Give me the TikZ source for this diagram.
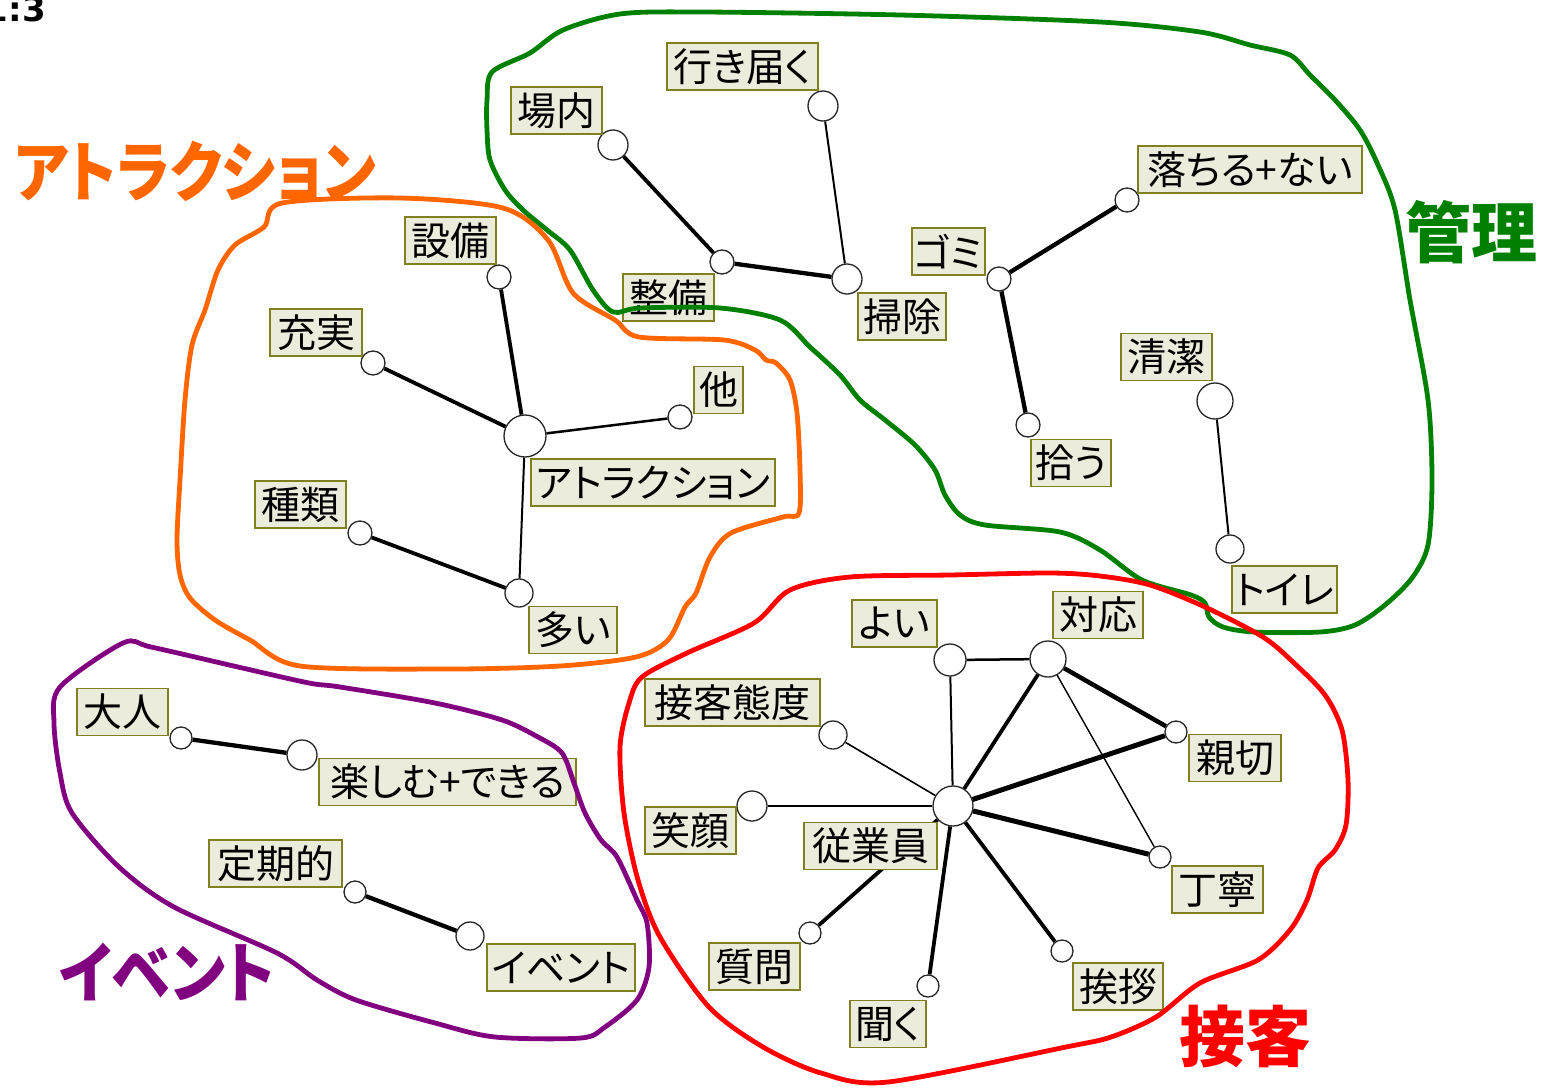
\documentclass[tikz,border=0pt]{standalone}
\usepackage{fontspec}
\usepackage{graphicx}
\newfontfamily\jp{Noto Sans CJK JP}[RawFeature=+palt]
\newfontfamily\numfont{DejaVu Sans}
\definecolor{lblfill}{RGB}{236,236,220}
\definecolor{lbldraw}{RGB}{128,128,32}
\definecolor{gOrange}{HTML}{FF6600}
\definecolor{gGreen}{HTML}{008000}
\definecolor{gRed}{HTML}{FF0000}
\definecolor{gPurple}{HTML}{800080}
\tikzset{
  lbl/.style={draw=lbldraw, fill=lblfill, line width=1.8pt, inner sep=0pt,
    minimum height=47pt, text=black, font=\jp\fontsize{39}{39}\selectfont},
  nd/.style={circle, draw=black!85, fill=white, line width=1.3pt, inner sep=0pt, minimum size=#1},
  big/.style={inner sep=0pt, font=\jp\bfseries\fontsize{66}{66}\selectfont},
  ew/.style={draw=black, line width=#1},
  grpline/.style={line width=4.8pt, line join=round}
}
\begin{document}
\begin{tikzpicture}[x=1pt,y=-1pt]
\useasboundingbox (0,0) rectangle (1544,1089);

% top-left fragment
\node[anchor=base east, inner sep=0pt, font=\numfont\bfseries\fontsize{34}{34}\selectfont] (tl) at (46,22) {1:3};

% ---------- circles ----------
% green group
\node[nd=30] (cBanai) at (613,145) {};
\node[nd=30] (cIki) at (823,106) {};
\node[nd=24] (cSeibi) at (722,262) {};
\node[nd=30] (cSouji) at (847,279) {};
\node[nd=24] (cOchiru) at (1127,200) {};
\node[nd=24] (cGomi) at (999,279) {};
\node[nd=24] (cHirou) at (1028,425) {};
\node[nd=36] (cSeiketsu) at (1215,401) {};
\node[nd=28] (cToire) at (1230,549) {};
% orange group
\node[nd=24] (cSetsubi) at (499,277) {};
\node[nd=24] (cJuujitsu) at (373,363) {};
\node[nd=42] (cAttr) at (525,436) {};
\node[nd=24] (cHoka) at (680,417) {};
\node[nd=24] (cShurui) at (360,533) {};
\node[nd=28] (cOoi) at (519,593) {};
% red group
\node[nd=32] (cYoi) at (950,660) {};
\node[nd=36] (cTaiou) at (1048,659) {};
\node[nd=28] (cSekkyaku) at (833,735) {};
\node[nd=22] (cShinsetsu) at (1176,732) {};
\node[nd=30] (cEgao) at (752,806) {};
\node[nd=40] (cJuugyou) at (953,806) {};
\node[nd=22] (cTeinei) at (1160,857) {};
\node[nd=22] (cShitsumon) at (810,933) {};
\node[nd=22] (cKiku) at (928,986) {};
\node[nd=22] (cAisatsu) at (1062,951) {};
% purple group
\node[nd=22] (cOtona) at (181,738) {};
\node[nd=30] (cTanoshimu) at (302,755) {};
\node[nd=22] (cTeiki) at (355,892) {};
\node[nd=28] (cEvent) at (470,936) {};

% ---------- edges ----------
\draw[ew=3.8pt] (cBanai) -- (cSeibi);
\draw[ew=2pt] (cIki) -- (cSouji);
\draw[ew=4.3pt] (cSeibi) -- (cSouji);
\draw[ew=4.3pt] (cGomi) -- (cOchiru);
\draw[ew=4.3pt] (cGomi) -- (cHirou);
\draw[ew=2pt] (cSeiketsu) -- (cToire);

\draw[ew=3.8pt] (cSetsubi) -- (cAttr);
\draw[ew=3.8pt] (cJuujitsu) -- (cAttr);
\draw[ew=2.5pt] (cHoka) -- (cAttr);
\draw[ew=2pt] (cAttr) -- (cOoi);
\draw[ew=3.8pt] (cShurui) -- (cOoi);

\draw[ew=2.5pt] (cYoi) -- (cTaiou);
\draw[ew=2pt] (cYoi) -- (cJuugyou);
\draw[ew=3.8pt] (cTaiou) -- (cJuugyou);
\draw[ew=4.5pt] (cTaiou) -- (cShinsetsu);
\draw[ew=1.4pt] (cTaiou) -- (cTeinei);
\draw[ew=1.6pt] (cSekkyaku) -- (cJuugyou);
\draw[ew=2.5pt] (cEgao) -- (cJuugyou);
\draw[ew=5pt] (cJuugyou) -- (cShinsetsu);
\draw[ew=5pt] (cJuugyou) -- (cTeinei);
\draw[ew=3.8pt] (cJuugyou) -- (cShitsumon);
\draw[ew=3.8pt] (cJuugyou) -- (cKiku);
\draw[ew=3.8pt] (cJuugyou) -- (cAisatsu);

\draw[ew=4.3pt] (cOtona) -- (cTanoshimu);
\draw[ew=4.3pt] (cTeiki) -- (cEvent);

% ---------- labels ----------
\node[lbl, minimum width=151] (lIki) at (742.5,66.5) {行き届く};
\node[lbl, minimum width=91] (lBanai) at (556.5,110.5) {場内};
\node[lbl, minimum width=91] (lSeibi) at (668.5,297.5) {整備};
\node[lbl, minimum width=88] (lSouji) at (902,316.5) {掃除};
\node[lbl, minimum width=224] (lOchiru) at (1250,169.5) {落ちる+ない};
\node[lbl, minimum width=73] (lGomi) at (948.5,251.5) {ゴミ};
\node[lbl, minimum width=80] (lHirou) at (1071,463) {拾う};
\node[lbl, minimum width=91] (lSeiketsu) at (1166.5,357) {清潔};
\node[lbl, minimum width=105] (lToire) at (1284.5,589.5) {トイレ};

\node[lbl, minimum width=91] (lSetsubi) at (450.5,240.5) {設備};
\node[lbl, minimum width=92] (lJuujitsu) at (316,332.5) {充実};
\node[lbl, minimum width=49] (lHoka) at (718.5,390) {他};
\node[lbl, minimum width=244] (lAttr) at (653,482.5) {アトラクション};
\node[lbl, minimum width=91] (lShurui) at (300.5,504.5) {種類};
\node[lbl, minimum width=88] (lOoi) at (573,630) {多い};

\node[lbl, minimum width=85] (lYoi) at (894.5,623.5) {よい};
\node[lbl, minimum width=90] (lTaiou) at (1098,615) {対応};
\node[lbl, minimum width=175] (lSekkyaku) at (732.5,702.5) {接客態度};
\node[lbl, minimum width=92] (lShinsetsu) at (1235,758) {親切};
\node[lbl, minimum width=91] (lEgao) at (690.5,830.5) {笑顔};
\node[lbl, minimum width=133] (lJuugyou) at (870.5,846) {従業員};
\node[lbl, minimum width=91] (lTeinei) at (1217.5,889.5) {丁寧};
\node[lbl, minimum width=91] (lShitsumon) at (754.5,966.5) {質問};
\node[lbl, minimum width=76] (lKiku) at (888,1024) {聞く};
\node[lbl, minimum width=90] (lAisatsu) at (1118,986.5) {挨拶};

\node[lbl, minimum width=91] (lOtona) at (122.5,712) {大人};
\node[lbl, minimum width=257] (lTanoshimu) at (447.5,782) {楽しむ+できる};
\node[lbl, minimum width=133] (lTeiki) at (275.5,863.5) {定期的};
\node[lbl, minimum width=148] (lEvent) at (561,967.5) {イベント};

% ---------- group outlines ----------
\draw[gGreen, grpline] plot[smooth cycle, tension=0.5] coordinates {
(487,100) (492,72) (530,53) (563,30) (620,14) (700,12) (900,15) (1100,22) (1200,32) (1250,45) (1290,55) (1310,75) (1335,100) (1360,130) (1378,165) (1395,210) (1410,300) (1428,400) (1432,480) (1428,545) (1412,578) (1385,605) (1355,625) (1320,632) (1254,632) (1223,627) (1209,617) (1205,603) (1191,595) (1142,580) (1100,550) (1060,532) (985,525) (960,515) (945,495) (935,470) (915,445) (885,420) (860,400) (840,375) (810,347) (780,320) (720,308) (640,308) (613,312) (593,290) (570,250) (547,230) (523,210) (505,190) (490,160) (487,130)};

\draw[gOrange, grpline] plot[smooth cycle, tension=0.5] coordinates {
(264,227) (282,203) (400,198) (503,208) (548,240) (573,293) (615,320) (639,337) (724,340) (755,350) (766,360) (776,363) (790,380) (797,413) (800,470) (799,513) (783,517) (731,533) (710,557) (696,593) (685,607) (668,640) (636,657) (560,666) (450,669) (300,666) (250,640) (215,620) (190,598) (180,575) (177,540) (180,480) (185,400) (192,345) (205,310) (218,270) (235,245)};

\draw[gPurple, grpline] plot[smooth cycle, tension=0.5] coordinates {
(123,643) (151,647) (238,667) (309,683) (340,687) (435,703) (502,720) (538,737) (562,753) (574,783) (585,813) (601,840) (617,857) (637,900) (647,923) (649,967) (637,1000) (605,1027) (581,1038) (495,1037) (435,1023) (356,1000) (317,980) (277,953) (174,907) (119,867) (72,813) (60,773) (54,723) (60,687)};

\draw[gRed, grpline] plot[smooth cycle, tension=0.5] coordinates {
(790,590) (850,577) (950,575) (1050,573) (1100,576) (1150,585) (1205,607) (1263,637) (1294,663) (1325,695) (1342,730) (1348,780) (1346,825) (1335,850) (1318,868) (1307,900) (1290,930) (1258,960) (1200,983) (1156,1017) (1111,1037) (1066,1047) (888,1082) (821,1073) (763,1047) (709,1007) (660,937) (638,880) (624,813) (620,747) (629,703) (642,677) (687,653) (754,623)};

% ---------- group titles ----------
\node[big, text=gOrange] (tAttr) at (195,172) {\scalebox{0.88}[1]{アトラクション}};
\node[big, text=gGreen] (tKanri) at (1471,232) {管理};
\node[big, text=gRed] (tSekkyaku) at (1245,1037) {接客};
\node[big, text=gPurple] (tEvent) at (167,972) {\scalebox{0.9}[1]{イベント}};
\end{tikzpicture}
\end{document}
